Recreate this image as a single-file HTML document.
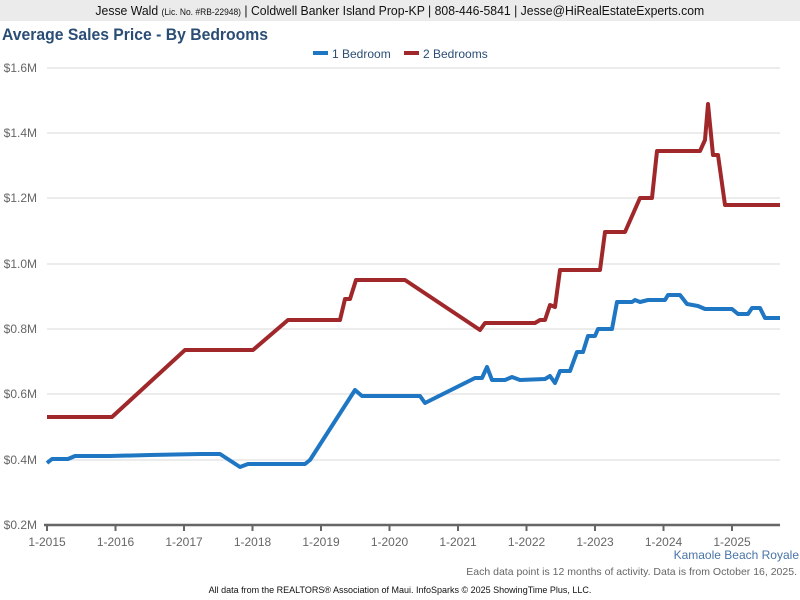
<!DOCTYPE html>
<html><head><style>
body{margin:0;width:800px;height:600px;background:#fff;font-family:"Liberation Sans",sans-serif;overflow:hidden;position:relative}
.hdr{position:absolute;left:0;top:0;width:800px;height:21px;background:#ebebeb;text-align:center;font-size:13px;line-height:22px;color:#111}
.hdr span.in{display:inline-block;transform:scaleX(0.94)}
.t{position:absolute;left:2px;top:25px;font-size:17px;font-weight:bold;color:#2a4d75;transform:scaleX(0.925);transform-origin:0 0}
</style></head><body>
<div class="hdr"><span class="in">Jesse Wald <span style="font-size:9px">(Lic. No. #RB-22948)</span> | Coldwell Banker Island Prop-KP | 808-446-5841 | Jesse@HiRealEstateExperts.com</span></div>
<div class="t">Average Sales Price - By Bedrooms</div>
<svg width="800" height="600" style="position:absolute;left:0;top:0" font-family="Liberation Sans, sans-serif">
<g font-size="12" fill="#2a4d75"><rect x="313" y="51" width="15" height="4" fill="#1f77c4"/><text x="332" y="58">1 Bedroom</text>
<rect x="404" y="51" width="15" height="4" fill="#a0282a"/><text x="423" y="58">2 Bedrooms</text></g>
<g stroke="#d8d8d8" stroke-width="1">
<line x1="47" y1="68" x2="780" y2="68"/><line x1="47" y1="133" x2="780" y2="133"/><line x1="47" y1="198" x2="780" y2="198"/><line x1="47" y1="264" x2="780" y2="264"/><line x1="47" y1="329" x2="780" y2="329"/><line x1="47" y1="394" x2="780" y2="394"/><line x1="47" y1="460" x2="780" y2="460"/></g>
<g font-size="12" fill="#666" text-anchor="end">
<text x="37" y="72">$1.6M</text><text x="37" y="137">$1.4M</text><text x="37" y="202">$1.2M</text><text x="37" y="268">$1.0M</text><text x="37" y="333">$0.8M</text><text x="37" y="398">$0.6M</text><text x="37" y="464">$0.4M</text><text x="37" y="529">$0.2M</text></g>
<line x1="44" y1="525" x2="780" y2="525" stroke="#666" stroke-width="2.5"/>
<g stroke="#666" stroke-width="2"><line x1="47" y1="525" x2="47" y2="531"/><line x1="115.5" y1="525" x2="115.5" y2="531"/><line x1="184" y1="525" x2="184" y2="531"/><line x1="252.5" y1="525" x2="252.5" y2="531"/><line x1="321" y1="525" x2="321" y2="531"/><line x1="389.5" y1="525" x2="389.5" y2="531"/><line x1="458" y1="525" x2="458" y2="531"/><line x1="526.5" y1="525" x2="526.5" y2="531"/><line x1="595" y1="525" x2="595" y2="531"/><line x1="663.5" y1="525" x2="663.5" y2="531"/><line x1="732" y1="525" x2="732" y2="531"/></g>
<g font-size="12" fill="#666" text-anchor="middle">
<text x="47" y="546">1-2015</text><text x="115.5" y="546">1-2016</text><text x="184" y="546">1-2017</text><text x="252.5" y="546">1-2018</text><text x="321" y="546">1-2019</text><text x="389.5" y="546">1-2020</text><text x="458" y="546">1-2021</text><text x="526.5" y="546">1-2022</text><text x="595" y="546">1-2023</text><text x="663.5" y="546">1-2024</text><text x="732" y="546">1-2025</text></g>
<polyline fill="none" stroke="#a0282a" stroke-width="4" stroke-linejoin="round" points="47,417 112,417 185,350 253,350 288,320 340,320 345,299 350,299 356,280 405,280 480,330 485,323 535,323 540,320 545,320 550,305 555,307 560,270 600,270 605,232 625,232 640,198 652,198 657,151 700,151 705,140 708,104 713,155 718,155 725,205 780,205"/>
<polyline fill="none" stroke="#1f77c4" stroke-width="4" stroke-linejoin="round" points="47,463 52,459 68,459 75,456 110,456 150,455 200,454 220,454 240,467 248,464 305,464 310,460 355,390 362,396 420,396 425,403 475,378 482,378 487,367 492,380 505,380 512,377 520,380 545,379 550,376 555,383 560,371 570,371 577,352 583,352 588,336 595,336 598,329 612,329 617,302 632,302 635,300 640,302 648,300 665,300 668,295 680,295 687,304 698,306 705,309 732,309 738,314 748,314 752,308 760,308 765,318 780,318"/>
<text x="799" y="559" font-size="12" fill="#4a74a8" text-anchor="end">Kamaole Beach Royale</text>
<text x="797" y="575" font-size="10.5" fill="#666" text-anchor="end">Each data point is 12 months of activity. Data is from October 16, 2025.</text>
<text x="400" y="593" font-size="9" fill="#111" text-anchor="middle">All data from the REALTORS® Association of Maui. InfoSparks © 2025 ShowingTime Plus, LLC.</text>
</svg>
</body></html>
